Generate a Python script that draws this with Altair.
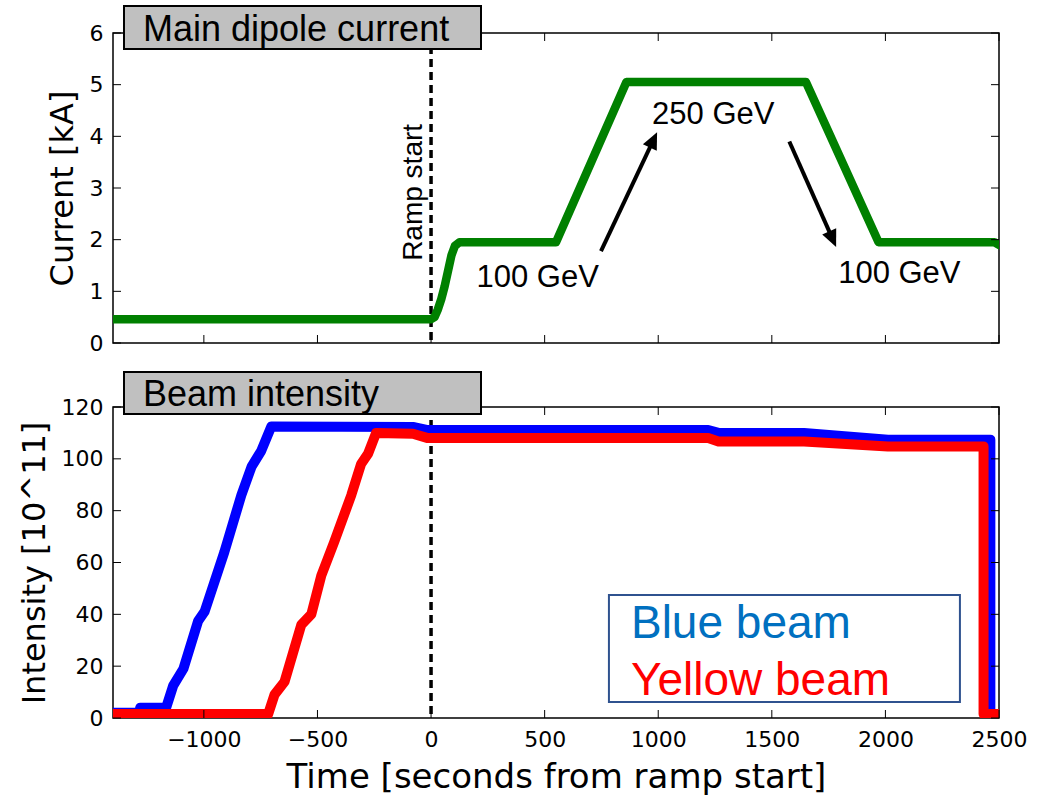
import math
import altair as alt
import pandas as pd

# ---------------- values ----------------
# Main dipole current (kA) vs time (s from ramp start)
green_t = [-1400, 0, 15, 30, 45, 60, 75, 90, 105, 125, 550, 860, 1650, 1970, 2480, 2500]
green_kA = [0.46, 0.46, 0.5, 0.65, 0.85, 1.1, 1.4, 1.7, 1.88, 1.95, 1.95, 5.05, 5.05, 1.95, 1.95, 1.9]

# Beam intensity (10^11)
blue_t = [-1400, -1285, -1280, -1166, -1135, -1090, -1025, -997, -910, -835, -790, -748, -703,
          -80, -14, 1220, 1265, 1642, 2011, 2462, 2462, 2500]
blue_v = [2, 2, 4, 4, 12.5, 19, 37.5, 41, 64, 86, 97, 103, 112.5,
          112.3, 111.1, 111.1, 110, 110, 107.4, 107.4, 1.5, 1.5]

red_t = [-1400, -717, -689, -645, -571, -527, -483, -426, -351, -308, -277, -242,
         -80, -14, 1220, 1265, 1642, 2011, 2432, 2432, 2500]
red_v = [1.5, 1.5, 9, 14, 36, 40, 55, 68, 86, 98, 102, 110,
         109.7, 108, 108, 106.7, 106.7, 104.8, 104.8, 1.5, 1.5]

x_ticks = [-1000, -500, 0, 500, 1000, 1500, 2000, 2500]
current_ticks = [0, 1, 2, 3, 4, 5, 6]
intensity_ticks = [0, 20, 40, 60, 80, 100, 120]

panel_titles = ["Main dipole current", "Beam intensity"]
x_title = "Time [seconds from ramp start]"
y_titles = ["Current [kA]", "Intensity [10^11]"]

ramp_label = ["Ramp start"]
ramp_t = [-40]
ramp_kA = [1.59]

gev_labels = ["100 GeV", "250 GeV", "100 GeV"]
gev_t = [200, 973, 1792]
gev_kA = [1.08, 4.24, 1.17]

arrow_t0 = [748, 1577]
arrow_kA0 = [1.78, 3.90]
arrow_t1 = [995, 1783]
arrow_kA1 = [4.08, 1.86]

legend_labels = ["Blue beam", "Yellow beam"]
legend_colors = ["#0070C0", "#FF0000"]
legend_t = [880, 880]
legend_v = [31, 8.8]
legend_box_t = [783, 2328]
legend_box_v = [6.2, 47.5]

# ---------------- layout / style ----------------
W, H1, H2 = 886, 310, 311
X_DOM = [-1400, 2500]
FONT_AX = "DejaVu Sans"
FONT_TX = "Liberation Sans"
GREEN, BLUE, RED = "#008000", "#0000FF", "#FF0000"
TICK = 8

xs = alt.Scale(domain=X_DOM, nice=False, zero=False)
ys_top = alt.Scale(domain=[0, 6], nice=False, zero=False)
ys_bot = alt.Scale(domain=[0, 120], nice=False, zero=False)


def yaxis(title, values):
    return alt.Axis(title=title, values=values, format="d", labelFont=FONT_AX, labelFontSize=22,
                    labelColor="black", labelPadding=10, ticks=False, tickSize=0, domain=False,
                    grid=False, labelOverlap=False, titleFont=FONT_AX, titleFontSize=32,
                    titleFontWeight="normal", titleColor="black", titlePadding=10)


xaxis_bot = alt.Axis(title=x_title, values=x_ticks, format="d", labelFont=FONT_AX, labelFontSize=22,
                     labelColor="black", labelPadding=11, ticks=False, tickSize=0, domain=False,
                     grid=False, labelFlush=False, labelOverlap=False, titleFont=FONT_AX,
                     titleFontSize=34, titleFontWeight="normal", titleColor="black", titlePadding=10)


def Xt(f="t"):
    return alt.X(f"{f}:Q", scale=xs, axis=None)


def Xb(f="t"):
    return alt.X(f"{f}:Q", scale=xs, axis=xaxis_bot)


def Yt(f="v"):
    return alt.Y(f"{f}:Q", scale=ys_top, axis=yaxis(y_titles[0], current_ticks))


def Yb(f="v"):
    return alt.Y(f"{f}:Q", scale=ys_bot, axis=yaxis(y_titles[1], intensity_ticks))


# ---------------- tables ----------------
df_green = pd.DataFrame({"t": green_t, "v": green_kA, "i": range(len(green_t))})
df_blue = pd.DataFrame({"t": blue_t, "v": blue_v, "i": range(len(blue_t))})
df_red = pd.DataFrame({"t": red_t, "v": red_v, "i": range(len(red_t))})
df_zero = pd.DataFrame({"t": [0]})
df_xt = pd.DataFrame({"t": x_ticks})
df_yt_top = pd.DataFrame({"v": current_ticks})
df_yt_bot = pd.DataFrame({"v": intensity_ticks})
df_gev = pd.DataFrame({"t": gev_t, "v": gev_kA, "label": gev_labels})
df_ramp = pd.DataFrame({"t": ramp_t, "v": ramp_kA, "label": ramp_label})

# arrow heads: centre a little behind the tip, rotated along the arrow
sx = W / (X_DOM[1] - X_DOM[0])
sy = H1 / 6.0
HEAD_LEN = 17
rows_line, rows_head = [], []
for a in range(len(arrow_t0)):
    dxp = (arrow_t1[a] - arrow_t0[a]) * sx
    dyp = (arrow_kA1[a] - arrow_kA0[a]) * sy
    L = math.hypot(dxp, dyp)
    ang = math.degrees(math.atan2(dxp, dyp)) % 360
    back = HEAD_LEN / 2.0
    ct = arrow_t1[a] - dxp / L * back / sx
    cv = arrow_kA1[a] - dyp / L * back / sy
    rows_line.append({"t": arrow_t0[a], "v": arrow_kA0[a], "t2": ct, "v2": cv})
    rows_head.append({"t": ct, "v": cv, "ang": ang})
df_arrow = pd.DataFrame(rows_line)
df_head = pd.DataFrame(rows_head)

df_title_top = pd.DataFrame({"label": [panel_titles[0]]})
df_title_bot = pd.DataFrame({"label": [panel_titles[1]]})
df_legbox = pd.DataFrame({"t": [legend_box_t[0]], "t2": [legend_box_t[1]],
                          "v": [legend_box_v[0]], "v2": [legend_box_v[1]]})
df_leg = pd.DataFrame({"t": legend_t, "v": legend_v, "label": legend_labels, "c": legend_colors})

ARROW_PATH = "M0,-1L0.9,1L-0.9,1Z"

# ---------------- top panel ----------------
t_vline = alt.Chart(df_zero).mark_rule(color="black", strokeWidth=3.5, strokeDash=[8, 5]).encode(x=Xt())
t_green = alt.Chart(df_green).mark_line(color=GREEN, strokeWidth=8.5, strokeJoin="round",
                                        strokeCap="square", clip=True).encode(
    x=Xt(), y=Yt(), order=alt.Order("i:Q"))
t_xtb = alt.Chart(df_xt).mark_rule(color="black", strokeWidth=1).encode(
    x=Xt(), y=alt.value(H1), y2=alt.value(H1 - TICK))
t_xtt = alt.Chart(df_xt).mark_rule(color="black", strokeWidth=1).encode(
    x=Xt(), y=alt.value(0), y2=alt.value(TICK))
t_ytl = alt.Chart(df_yt_top).mark_rule(color="black", strokeWidth=1).encode(
    y=Yt(), x=alt.value(0), x2=alt.value(TICK))
t_ytr = alt.Chart(df_yt_top).mark_rule(color="black", strokeWidth=1).encode(
    y=Yt(), x=alt.value(W), x2=alt.value(W - TICK))
t_gev = alt.Chart(df_gev).mark_text(align="left", baseline="alphabetic", font=FONT_TX, fontSize=31,
                                    color="black").encode(x=Xt(), y=Yt(), text="label:N")
t_arrow = alt.Chart(df_arrow).mark_rule(color="black", strokeWidth=4).encode(
    x=Xt(), y=Yt(), x2="t2:Q", y2="v2:Q")
t_head = alt.Chart(df_head).mark_point(shape=ARROW_PATH, filled=True, color="black", opacity=1,
                                       strokeWidth=0).encode(
    x=Xt(), y=Yt(), angle=alt.Angle("ang:Q", scale=None), size=alt.value(HEAD_LEN ** 2))
t_ramp = alt.Chart(df_ramp).mark_text(angle=270, align="left", baseline="alphabetic", font=FONT_TX,
                                      fontSize=28, color="black").encode(x=Xt(), y=Yt(), text="label:N")
t_box = alt.Chart(df_title_top).mark_rect(fill="#C0C0C0", stroke="black", strokeWidth=2).encode(
    x=alt.value(11), x2=alt.value(368), y=alt.value(-27), y2=alt.value(16))
t_boxtext = alt.Chart(df_title_top).mark_text(align="left", baseline="alphabetic", font=FONT_TX,
                                              fontSize=36, color="black").encode(
    x=alt.value(30), y=alt.value(8), text="label:N")

top = alt.layer(t_vline, t_green, t_xtb, t_xtt, t_ytl, t_ytr, t_gev, t_arrow, t_head, t_ramp,
                t_box, t_boxtext).properties(width=W, height=H1)

# ---------------- bottom panel ----------------
b_vline = alt.Chart(df_zero).mark_rule(color="black", strokeWidth=3.5, strokeDash=[8, 5]).encode(x=Xb())
b_blue = alt.Chart(df_blue).mark_line(color=BLUE, strokeWidth=10, strokeJoin="round",
                                      strokeCap="square", clip=True).encode(
    x=Xb(), y=Yb(), order=alt.Order("i:Q"))
b_red = alt.Chart(df_red).mark_line(color=RED, strokeWidth=10, strokeJoin="round",
                                    strokeCap="square", clip=True).encode(
    x=Xb(), y=Yb(), order=alt.Order("i:Q"))
b_xtb = alt.Chart(df_xt).mark_rule(color="black", strokeWidth=1).encode(
    x=Xb(), y=alt.value(H2), y2=alt.value(H2 - TICK))
b_xtt = alt.Chart(df_xt).mark_rule(color="black", strokeWidth=1).encode(
    x=Xb(), y=alt.value(0), y2=alt.value(TICK))
b_ytl = alt.Chart(df_yt_bot).mark_rule(color="black", strokeWidth=1).encode(
    y=Yb(), x=alt.value(0), x2=alt.value(TICK))
b_ytr = alt.Chart(df_yt_bot).mark_rule(color="black", strokeWidth=1).encode(
    y=Yb(), x=alt.value(W), x2=alt.value(W - TICK))
b_legbox = alt.Chart(df_legbox).mark_rect(fill="white", stroke="#2F528F", strokeWidth=2).encode(
    x=Xb(), x2="t2:Q", y=Yb(), y2="v2:Q")
b_leg = alt.Chart(df_leg).mark_text(align="left", baseline="alphabetic", font=FONT_TX,
                                    fontSize=46).encode(
    x=Xb(), y=Yb(), text="label:N", color=alt.Color("c:N", scale=None, legend=None))
b_box = alt.Chart(df_title_bot).mark_rect(fill="#C0C0C0", stroke="black", strokeWidth=2).encode(
    x=alt.value(11), x2=alt.value(368), y=alt.value(-35), y2=alt.value(7))
b_boxtext = alt.Chart(df_title_bot).mark_text(align="left", baseline="alphabetic", font=FONT_TX,
                                              fontSize=36, color="black").encode(
    x=alt.value(30), y=alt.value(-1), text="label:N")

bottom = alt.layer(b_vline, b_blue, b_red, b_xtb, b_xtt, b_ytl, b_ytr, b_legbox, b_leg,
                   b_box, b_boxtext).properties(width=W, height=H2)

chart = alt.vconcat(top, bottom, spacing=64, bounds="flush").properties(
    padding={"left": 17, "top": 4, "right": 0, "bottom": 0},
    background="white",
).configure_view(stroke="black", strokeWidth=1.5)

chart.save("out.html", embed_options={"renderer": "svg", "actions": False})
